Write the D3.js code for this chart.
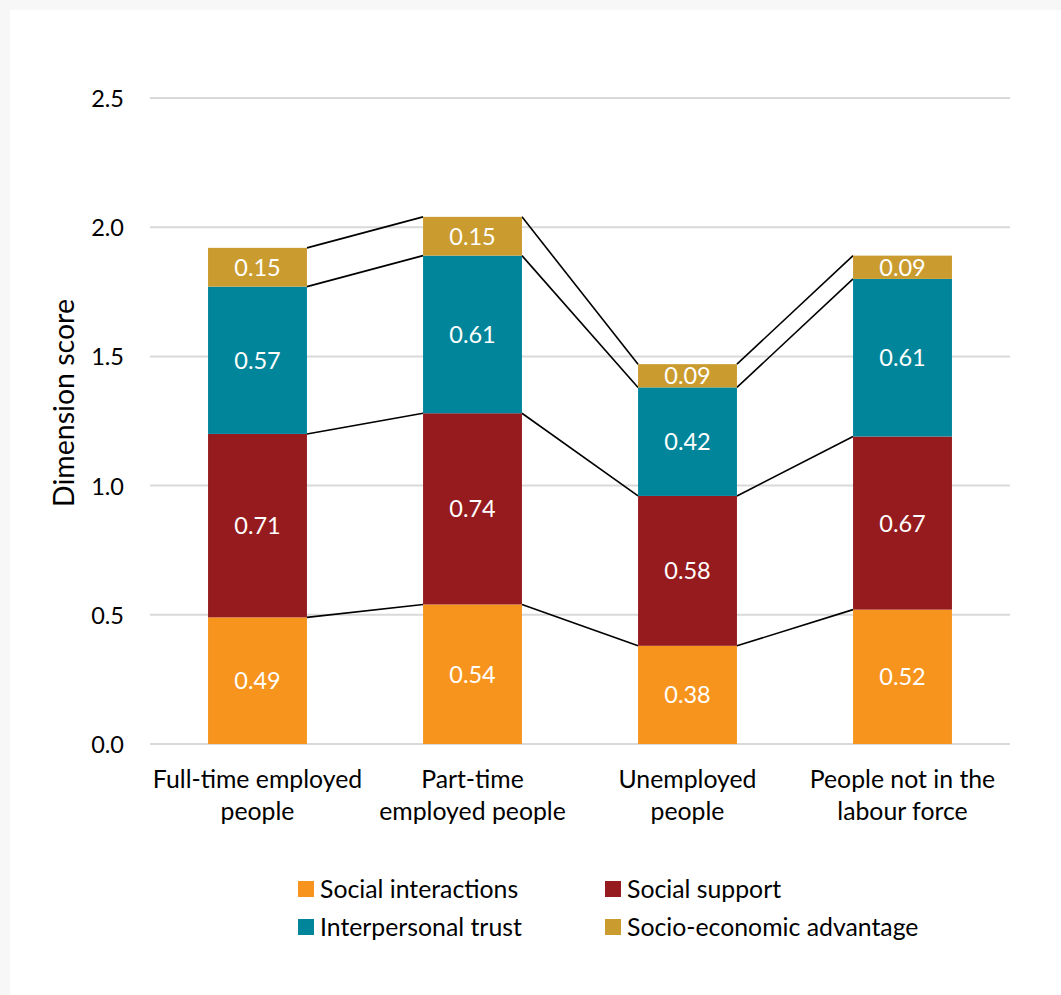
<!DOCTYPE html>
<html><head><meta charset="utf-8">
<script src="https://cdn.jsdelivr.net/npm/d3@7"></script>
<style>
html,body{margin:0;padding:0;background:#f7f7f7;}
svg{display:block;}
text{font-family:Lato,"Open Sans",sans-serif;}
</style></head>
<body>
<script>
const categories = [["Full-time employed","people"],["Part-time","employed people"],["Unemployed","people"],["People not in the","labour force"]];
const seriesNames = ["Social interactions","Social support","Interpersonal trust","Socio-economic advantage"];
const socialInteractions = [0.49,0.54,0.38,0.52];
const socialSupport = [0.71,0.74,0.58,0.67];
const interpersonalTrust = [0.57,0.61,0.42,0.61];
const socioEconomic = [0.15,0.15,0.09,0.09];
const yTicks = [0,0.5,1.0,1.5,2.0,2.5];
const colors = ["#F7941D","#961B1E","#00859B","#CA9B2E"];

const W=1061,H=995;
const svg=d3.select("body").append("svg").attr("width",W).attr("height",H);
svg.append("rect").attr("x",10).attr("y",10).attr("width",W-10).attr("height",H-10).attr("fill","#fff");

const rows = categories.map((c,i)=>({i, v:[socialInteractions[i],socialSupport[i],interpersonalTrust[i],socioEconomic[i]]}));
const keys=[0,1,2,3];
const stack=d3.stack().keys(keys).value((d,k)=>d.v[k]);
const stacked=stack(rows);

const x=d3.scaleBand().domain(d3.range(4)).range([150,1010]).paddingInner(0.54).paddingOuter(0.27);
const y=d3.scaleLinear().domain([0,2.5]).range([744,98]);

// grid
svg.append("g").selectAll("line").data(yTicks).join("line")
  .attr("x1",150).attr("x2",1010).attr("y1",d=>y(d)).attr("y2",d=>y(d))
  .attr("stroke","#d9d9d9").attr("stroke-width",2);

// y axis labels
const yAxis=d3.axisLeft(y).tickValues(yTicks).tickFormat(d3.format(".1f")).tickSize(0).tickPadding(0);
const ya=svg.append("g").attr("transform","translate(124,0)").call(yAxis);
ya.select(".domain").remove();
ya.selectAll("text").attr("font-size",23.5).attr("fill","#000").attr("font-family","Lato,'Open Sans',sans-serif").attr("dy","0.36em");

svg.append("text").attr("transform","translate(64,403) rotate(-90)").attr("text-anchor","middle").attr("dy","0.36em")
  .attr("font-size",28.5).attr("fill","#000").text("Dimension score");

// series lines
stacked.forEach(s=>{
  for(let i=0;i<3;i++){
    svg.append("line")
      .attr("x1",x(i)+x.bandwidth()).attr("y1",y(s[i][1]))
      .attr("x2",x(i+1)).attr("y2",y(s[i+1][1]))
      .attr("stroke","#000").attr("stroke-width",1.6);
  }
});

// bars
const g=svg.append("g");
stacked.forEach((s,k)=>{
  g.selectAll(null).data(s).join("rect")
    .attr("x",(d,i)=>x(i)).attr("width",x.bandwidth())
    .attr("y",d=>y(d[1])).attr("height",d=>y(d[0])-y(d[1]))
    .attr("fill",colors[k]);
  g.selectAll(null).data(s).join("text")
    .attr("x",(d,i)=>x(i)+x.bandwidth()/2)
    .attr("y",d=>(y(d[0])+y(d[1]))/2).attr("dy","0.36em")
    .attr("text-anchor","middle").attr("fill","#fff").attr("font-size",23.5)
    .text((d,i)=>d3.format(".2f")(rows[i].v[k]));
});

// category labels
categories.forEach((c,i)=>{
  const t=svg.append("text").attr("text-anchor","middle").attr("font-size",24.8).attr("fill","#000");
  c.forEach((line,j)=>t.append("tspan").attr("x",x(i)+x.bandwidth()/2).attr("y",779+j*32).attr("dy","0.36em").text(line));
});

// legend
const legPos=[[298,889],[605,889],[298,927],[605,927]];
seriesNames.forEach((n,k)=>{
  svg.append("rect").attr("x",legPos[k][0]).attr("y",legPos[k][1]-8).attr("width",16).attr("height",16).attr("fill",colors[k]);
  svg.append("text").attr("x",legPos[k][0]+22).attr("y",legPos[k][1]).attr("dy","0.36em")
    .attr("font-size",24.8).attr("fill","#000").text(n);
});
</script>
</body></html>
